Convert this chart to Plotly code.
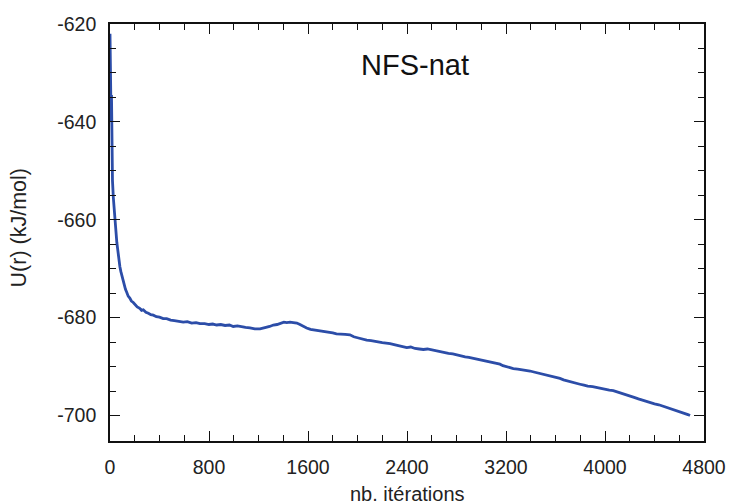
import plotly.graph_objects as go

# iterations (x) and potential energy U(r) in kJ/mol (y)
iterations = [
    0, 3, 6, 9, 12, 15, 20, 27, 34, 40,
    48, 55, 62, 67, 74, 80, 88, 95, 105, 115,
    125, 135, 147, 160, 173, 188, 203, 220, 240, 255,
    269, 290, 310, 330, 350, 375, 400, 430, 458, 490,
    520, 555, 592, 625, 660, 695, 727, 765, 800, 830,
    862, 895, 930, 965, 996, 1030, 1060, 1095, 1131, 1170,
    1212, 1240, 1260, 1290, 1320, 1350, 1380, 1405, 1428, 1455,
    1481, 1510, 1535, 1560, 1589, 1620, 1650, 1690, 1724, 1760,
    1800, 1830, 1860, 1900, 1939, 1970, 2000, 2040, 2074, 2110,
    2150, 2200, 2263, 2300, 2330, 2365, 2398, 2430, 2465, 2500,
    2532, 2565, 2600, 2635, 2667, 2700, 2735, 2770, 2802, 2835,
    2870, 2900, 2936, 2965, 3000, 3030, 3057, 3100, 3151, 3175,
    3200, 3230, 3259, 3295, 3330, 3360, 3394, 3425, 3460, 3495,
    3529, 3555, 3580, 3610, 3636, 3665, 3691, 3720, 3750, 3775,
    3798, 3830, 3860, 3900, 3933, 3965, 4000, 4035, 4067, 4100,
    4130, 4165, 4202, 4235, 4270, 4305, 4337, 4370, 4400, 4435,
    4471, 4505, 4540, 4575, 4606, 4630, 4650, 4670, 4687,
]
energy = [
    -622.0, -634.0, -627.5, -640.0, -634.5, -648.0, -652.0, -655.5, -658.4, -660.8,
    -662.9, -664.6, -666.0, -667.3, -668.4, -669.6, -670.6, -671.4, -672.5, -673.3,
    -674.2, -674.8, -675.6, -676.0, -676.6, -676.9, -677.3, -677.8, -678.1, -678.5,
    -678.4, -678.9, -679.1, -679.4, -679.5, -679.8, -679.9, -680.2, -680.2, -680.5,
    -680.6, -680.7, -680.9, -680.8, -681.1, -681.0, -681.2, -681.2, -681.4, -681.3,
    -681.5, -681.4, -681.6, -681.5, -681.8, -681.7, -681.9, -682.0, -682.1, -682.3,
    -682.3, -682.2, -682.0, -681.8, -681.5, -681.4, -681.1, -680.9, -681.0, -680.9,
    -681.0, -681.1, -681.4, -681.8, -682.1, -682.4, -682.5, -682.7, -682.8, -683.0,
    -683.1, -683.3, -683.4, -683.4, -683.5, -683.9, -684.1, -684.4, -684.6, -684.7,
    -684.9, -685.1, -685.3, -685.6, -685.7, -685.9, -686.1, -686.0, -686.3, -686.4,
    -686.5, -686.4, -686.6, -686.8, -686.9, -687.1, -687.3, -687.4, -687.6, -687.9,
    -688.0, -688.1, -688.3, -688.6, -688.8, -688.9, -689.0, -689.2, -689.5, -689.8,
    -690.0, -690.2, -690.4, -690.5, -690.6, -690.8, -690.9, -691.1, -691.3, -691.6,
    -691.8, -691.9, -692.1, -692.2, -692.4, -692.7, -692.9, -693.1, -693.3, -693.4,
    -693.6, -693.8, -694.0, -694.1, -694.3, -694.4, -694.6, -694.8, -694.9, -695.2,
    -695.5, -695.8, -696.1, -696.3, -696.6, -696.9, -697.1, -697.3, -697.6, -697.8,
    -698.1, -698.4, -698.7, -698.9, -699.2, -699.4, -699.6, -699.8, -700.0,
]

x_ticks = [0, 800, 1600, 2400, 3200, 4000, 4800]
y_ticks = [-700, -680, -660, -640, -620]
y_tick_labels = ["-700", "-680", "-660", "-640", "-620"]

title_text = "NFS-nat"
x_title = "nb. itérations"
y_title = "U(r) (kJ/mol)"

FONT = "Liberation Sans, Arial, Helvetica, sans-serif"

fig = go.Figure()
fig.add_trace(go.Scatter(
    x=iterations, y=energy, mode="lines",
    line=dict(color="#2C4DA8", width=2.8),
    showlegend=False, hoverinfo="skip",
))

axis_common = dict(
    showgrid=False, zeroline=False, automargin=False,
    showline=True, linecolor="#111111", linewidth=1.6,
    mirror="allticks", ticks="inside", ticklen=10, tickwidth=1.4,
    tickcolor="#111111",
    tickfont=dict(family=FONT, size=19.5, color="#222222"),
)

fig.update_xaxes(
    range=[0, 4800], tickvals=x_ticks,
    minor=dict(dtick=200, ticks="inside", ticklen=6, tickwidth=1.4, tickcolor="#111111"),
    ticklabelstandoff=8,
    **axis_common,
)
fig.update_yaxes(
    range=[-705.2, -620], tickvals=y_ticks, ticktext=y_tick_labels,
    minor=dict(dtick=5, ticks="inside", ticklen=6, tickwidth=1.4, tickcolor="#111111"),
    ticklabelstandoff=8,
    **axis_common,
)

fig.add_annotation(
    text=title_text, xref="paper", yref="paper", x=0.513, y=0.902,
    xanchor="center", yanchor="middle", showarrow=False,
    font=dict(family=FONT, size=29, color="#111111"),
)
fig.add_annotation(
    text=x_title, xref="paper", yref="paper", x=0.5, y=-0.128,
    xanchor="center", yanchor="middle", showarrow=False,
    font=dict(family=FONT, size=20, color="#222222"),
)
fig.add_annotation(
    text=y_title, xref="paper", yref="paper", x=-0.153, y=0.51,
    xanchor="center", yanchor="middle", showarrow=False, textangle=-90,
    font=dict(family=FONT, size=21.5, color="#222222"),
)

fig.update_layout(
    width=729, height=504,
    margin=dict(l=110, r=25, t=24, b=63),
    paper_bgcolor="white", plot_bgcolor="white",
)

fig.write_html("out.html")
